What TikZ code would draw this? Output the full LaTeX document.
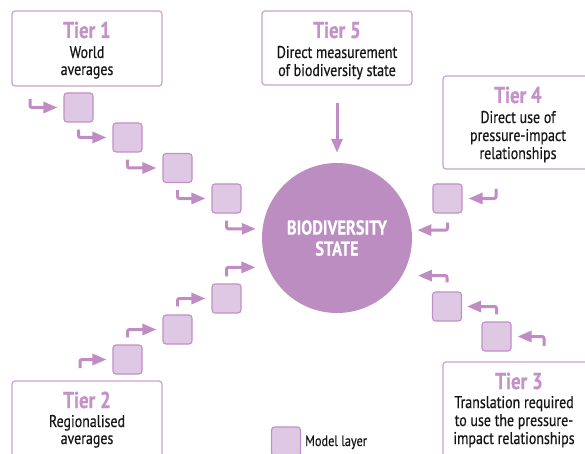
\documentclass[tikz,border=0pt]{standalone}
\usepackage{fontspec}
\setmainfont{PT Sans}[FakeStretch=0.82]
\newfontfamily\bodyfont{PT Sans}[FakeStretch=0.82, FakeBold=0.5]
\newfontfamily\headfont{PT Sans Bold}[FakeStretch=0.82, FakeBold=0.4]
\usetikzlibrary{arrows.meta}

\definecolor{circfill}{HTML}{BB8DC0}
\definecolor{sqfill}{HTML}{DEC8E3}
\definecolor{sqedge}{HTML}{C28FC6}
\definecolor{boxedge}{HTML}{C9A2CE}
\definecolor{titlecol}{HTML}{C491C8}
\definecolor{arrowcol}{HTML}{C08CC4}
\definecolor{textcol}{HTML}{161616}

\tikzset{
  tierbox/.style={draw=boxedge, line width=1.2pt, rounded corners=3pt, fill=white},
  tiertitle/.style={text=titlecol, font=\headfont\fontsize{23}{23}\selectfont, inner sep=0pt},
  tiertext/.style={text=textcol, font=\bodyfont\fontsize{17}{18}\selectfont, align=center, inner sep=0pt},
  layer/.style={draw=sqedge, fill=sqfill, line width=1.1pt, rounded corners=3pt,
    minimum size=29pt, inner sep=0pt},
  hub/.style={circle, fill=circfill, minimum size=150pt, inner sep=0pt, text=white,
    font=\headfont\fontsize{20}{21}\selectfont, align=center},
  flow/.style={draw=arrowcol, line width=3pt, rounded corners=2pt,
    -{Triangle[length=14pt,width=11pt]}},
}

\begin{document}
\begin{tikzpicture}[x=1pt, y=-1pt]
\useasboundingbox (0,0) rectangle (585,454);
\clip (0,0) rectangle (585,454);

% tier boxes
\draw[tierbox] (12,11) rectangle (162,86);
\draw[tierbox] (262,11) rectangle (412,85);
\draw[tierbox] (443,76) rectangle (594,169);
\draw[tierbox] (12,381) rectangle (162,470);
\draw[tierbox] (443,362) rectangle (594,470);

\node[tiertitle, anchor=base] (t1) at (87,38) {Tier 1};
\node[tiertext, anchor=base] (t1a) at (87,58) {World};
\node[tiertext, anchor=base] (t1b) at (87,75) {averages};

\node[tiertitle, anchor=base] (t5) at (337,38) {Tier 5};
\node[tiertext, anchor=base] (t5a) at (337,58) {Direct measurement};
\node[tiertext, anchor=base] (t5b) at (337,76) {of biodiversity state};

\node[tiertitle, anchor=base] (t4) at (518,103) {Tier 4};
\node[tiertext, anchor=base] (t4a) at (518,123) {Direct use of};
\node[tiertext, anchor=base] (t4b) at (518,141) {pressure-impact};
\node[tiertext, anchor=base] (t4c) at (518,159) {relationships};

\node[tiertitle, anchor=base] (t2) at (87,408) {Tier 2};
\node[tiertext, anchor=base] (t2a) at (87,427) {Regionalised};
\node[tiertext, anchor=base] (t2b) at (87,444) {averages};

\node[tiertitle, anchor=base] (t3) at (519,389) {Tier 3};
\node[tiertext, anchor=base] (t3a) at (514,408) {Translation required};
\node[tiertext, anchor=base] (t3b) at (514,426) {to use the pressure-};
\node[tiertext, anchor=base] (t3c) at (514,444) {impact relationships};

% central state
\node[hub] (bio) at (337,238) {BIODIVERSITY\\STATE};

% model layers
\node[layer] (a1) at (78.5,107.5) {};
\node[layer] (a2) at (127.5,137.5) {};
\node[layer] (a3) at (177.5,168) {};
\node[layer] (a4) at (226.5,198.5) {};

\node[layer] (b1) at (127.5,359.5) {};
\node[layer] (b2) at (177.5,329.5) {};
\node[layer] (b3) at (226.5,298.5) {};

\node[layer] (c1) at (447.5,198.5) {};

\node[layer] (d1) at (447,306.5) {};
\node[layer] (d2) at (496.5,336.5) {};

% free ends of the chains
\coordinate (a0) at (30,99);
\coordinate (b0) at (80,368);
\coordinate (c0) at (496,189);
\coordinate (d0) at (544,346);
\coordinate (t5foot) at (337,103);

% tier 1 chain
\draw[flow, shorten >=6pt] (a0) |- (a1);
\draw[flow, shorten >=6pt] (a1.south) ++(0,7) |- (a2);
\draw[flow, shorten >=6pt] (a2.south) ++(0,7) |- (a3);
\draw[flow, shorten >=6pt] (a3.south) ++(0,7) |- (a4);
\draw[flow, shorten >=6.6pt] (a4.south) ++(0,7) |- (bio.173.1);

% tier 2 chain
\draw[flow, shorten >=6pt] (b0) |- (b1);
\draw[flow, shorten >=6pt] (b1.north) ++(0,-7) |- (b2);
\draw[flow, shorten >=6pt] (b2.north) ++(0,-8) |- (b3);
\draw[flow, shorten >=12.3pt] (b3.north) ++(0,-7) |- (bio.203.6);

% tier 4 chain
\draw[flow, shorten >=6pt] (c0) |- (c1);
\draw[flow, shorten >=5.6pt] (c1.south) ++(0,9) |- (bio.6.1);

% tier 3 chain
\draw[flow, shorten >=6pt] (d0) |- (d2);
\draw[flow, shorten >=5pt] (d2.north) ++(0,-7) |- (d1);
\draw[flow, shorten >=15.8pt] (d1.north) ++(0,-9) |- (bio.330.4);

% tier 5
\draw[flow, shorten >=10pt] (t5foot) -- (bio.north);

% legend
\node[layer] (key) at (286,441.5) {};
\node[tiertext, anchor=base west, font=\bodyfont\fontsize{15}{16}\selectfont] (keytext) at (305,446) {Model layer};
\end{tikzpicture}
\end{document}
